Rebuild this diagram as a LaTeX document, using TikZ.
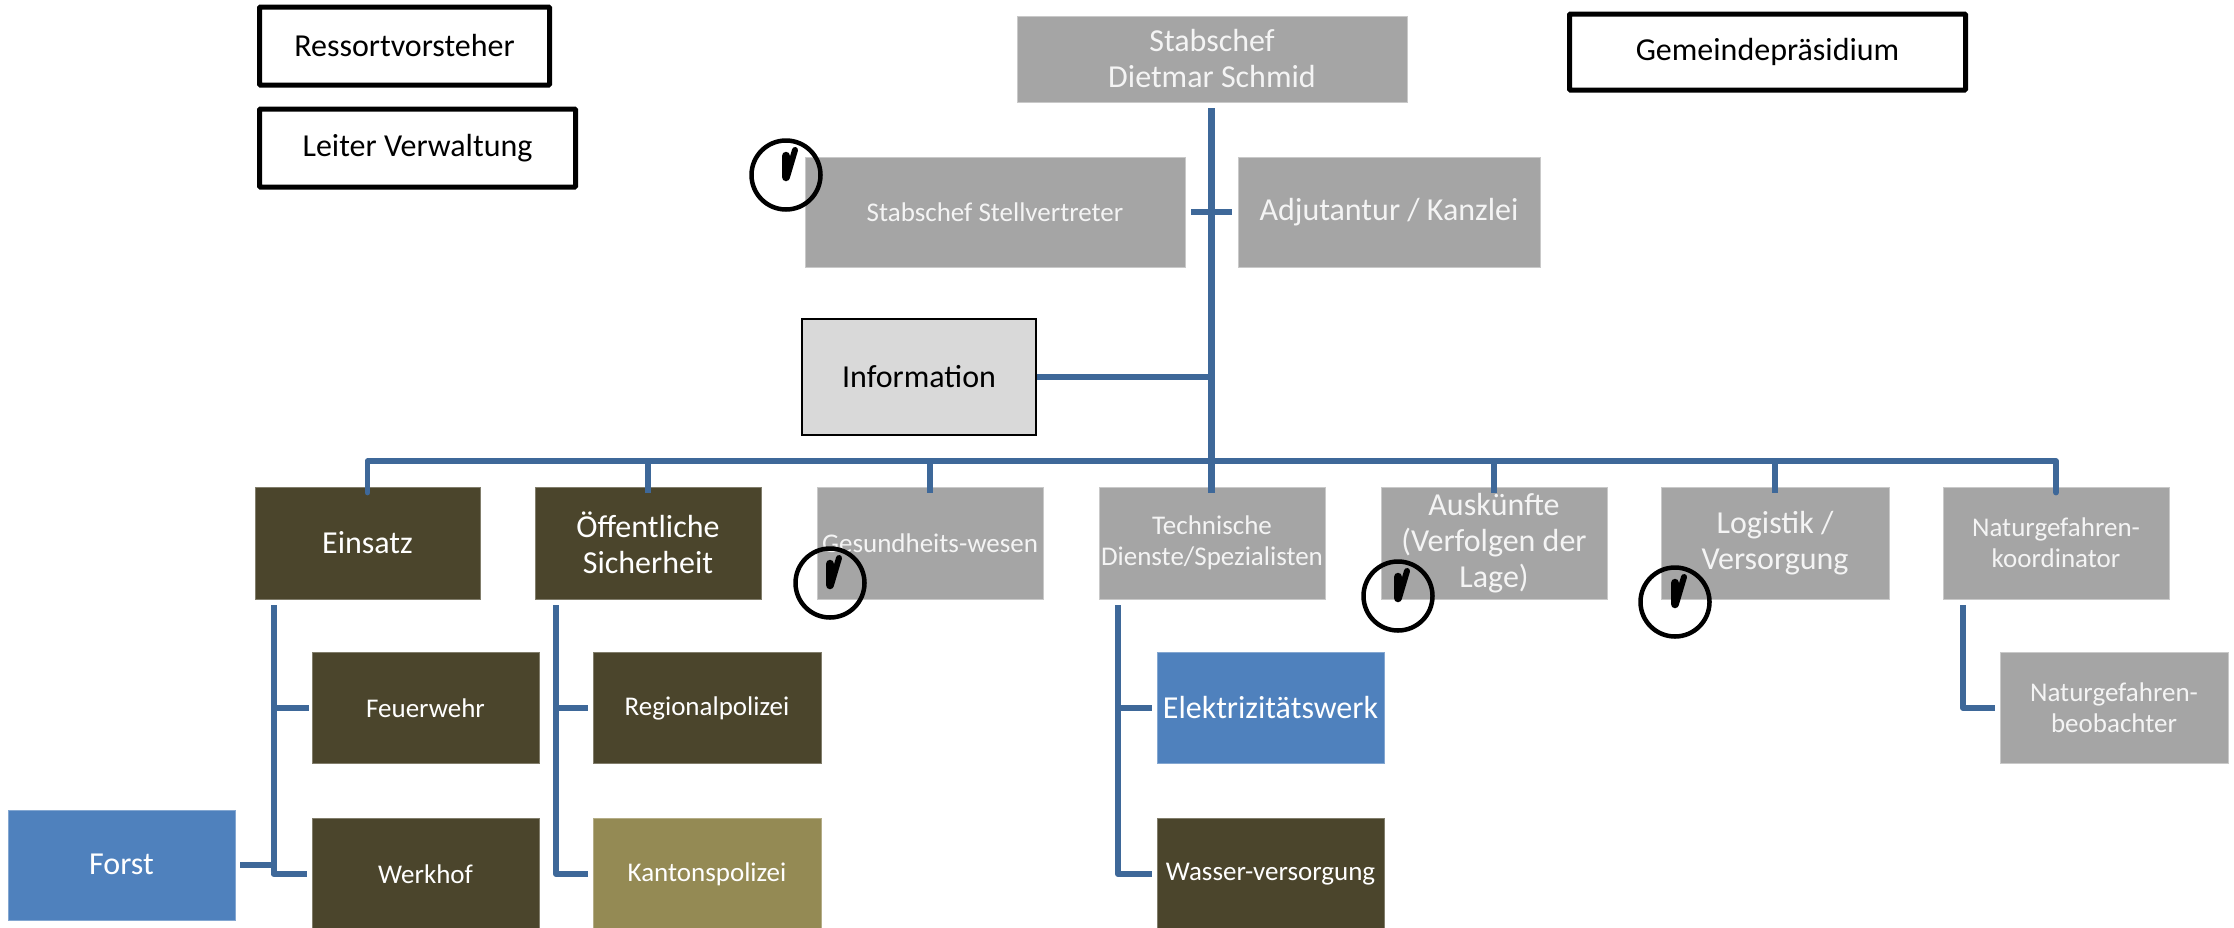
\documentclass[tikz,border=0pt]{standalone}
\usepackage{fontspec}
\setmainfont{Carlito}
\newcommand{\fsS}{\fontsize{27}{31}\selectfont}
\newcommand{\fsL}{\fontsize{32}{36}\selectfont}
\definecolor{greyb}{HTML}{A5A5A5}
\definecolor{brownb}{HTML}{4B452C}
\definecolor{blueb}{HTML}{4F81BD}
\definecolor{oliveb}{HTML}{948A54}
\definecolor{lightb}{HTML}{D9D9D9}
\definecolor{linec}{HTML}{3E6899}
\definecolor{textw}{HTML}{F4F4F4}
\tikzset{
  sized/.style 2 args={minimum width=#1pt,minimum height=#2pt,inner sep=0pt,align=center},
  small/.style={font=\fsS},
  large/.style={font=\fsL},
  greybox/.style={fill=greyb,draw=greyb!60!white,line width=0.8pt,text=textw},
  brownbox/.style={fill=brownb,draw=brownb!70!white,line width=0.8pt,text=white},
  bluebox/.style={fill=blueb,draw=blueb!70!white,line width=0.8pt,text=white},
  olivebox/.style={fill=oliveb,draw=oliveb!70!white,line width=0.8pt,text=white},
  legend/.style={draw=black,line width=5pt,text=black,rounded corners=1pt,font=\fsL},
  conn/.style={draw=linec,line width=5.5pt,line join=round},
  trunk/.style={draw=linec,line width=6.5pt},
  clock/.pic={
    \draw[black,line width=4.5pt] (0,0) circle (34.5);
    \draw[black,line width=8.5pt,line cap=round] (0,2) -- (0,-19);
    \draw[black,line width=6pt,line cap=round] (1,2) -- (9,-25);
  }
}
\begin{document}
\begin{tikzpicture}[x=1pt,y=-1pt]
\useasboundingbox (0,0) rectangle (2234,927);
\clip (0,0) rectangle (2234,927);
% legend and top row
\node[legend,sized={290}{78}] (ressort) at (404.5,46) {Ressortvorsteher};
\node[legend,sized={316}{78}] (leiter) at (417.5,148) {Leiter Verwaltung};
\node[legend,sized={396}{76}] (praes) at (1767.5,52) {Gemeindepräsidium};
\node[greybox,large,sized={390}{86}] (chef) at (1212,59) {Stabschef\\Dietmar Schmid};
\node[greybox,small,sized={380}{110}] (stell) at (995,212) {Stabschef Stellvertreter};
\node[greybox,large,sized={302}{110}] (adj) at (1389,212) {Adjutantur / Kanzlei};
\node[draw=black,line width=1.2pt,fill=lightb,text=black,large,sized={234}{116}] (info) at (919,377) {\raisebox{1.5pt}{Information}};
% first row
\node[brownbox,large,sized={225}{112}] (einsatz) at (367.5,543) {\raisebox{1.5pt}{Einsatz}};
\node[brownbox,large,sized={226}{112}] (oeff) at (648,543) {Öffentliche\\Sicherheit};
\node[greybox,small,sized={226}{112}] (gesund) at (930,543) {Gesundheits-wesen};
\node[greybox,small,sized={226}{112}] (tech) at (1212,543) {Technische\\Dienste/Spezialisten};
\node[greybox,large,sized={226}{112}] (ausk) at (1494,543) {Auskünfte\\(Verfolgen der\\Lage)};
\node[greybox,large,sized={228}{112}] (logi) at (1775,543) {Logistik /\\Versorgung};
\node[greybox,small,sized={226}{112}] (natk) at (2056,543) {Naturgefahren-\\koordinator};
% second row
\node[brownbox,small,sized={227}{111}] (feuer) at (425.5,708) {Feuerwehr};
\node[brownbox,small,sized={228}{111}] (regio) at (707,708) {Regionalpolizei};
\node[bluebox,large,sized={227}{111}] (elek) at (1270.5,708) {\raisebox{1.5pt}{Elektrizitätswerk}};
\node[greybox,small,sized={228}{111}] (natb) at (2114,708) {Naturgefahren-\\beobachter};
% third row
\node[bluebox,large,sized={227}{110}] (forst) at (121.5,865) {\raisebox{1.5pt}{Forst}};
\node[brownbox,small,sized={227}{111}] (werk) at (425.5,874) {Werkhof};
\node[olivebox,small,sized={228}{111}] (kanton) at (707,874) {Kantonspolizei};
\node[brownbox,small,sized={227}{111}] (wasser) at (1270.5,874) {Wasser-versorgung};
% clocks
\pic at (786,175) {clock};
\pic at (830,583) {clock};
\pic at (1398,596) {clock};
\pic at (1675,602) {clock};
% connectors
\coordinate (bus) at (1211.5,461);
\coordinate (busL) at (einsatz.north |- bus);
\coordinate (busR) at (natk.north |- bus);
\draw[trunk,shorten <=6pt] (chef.south -| bus) -- ([yshift=-6pt]tech.north -| bus);
\draw[conn,line cap=round] ([yshift=-6pt]einsatz.north) -- (busL) -- (busR) -- ([yshift=-6pt]natk.north);
\foreach \n in {oeff,gesund,ausk,logi}{
  \draw[conn] (\n.north |- bus) -- ([yshift=-6pt]\n.north);
}
\draw[conn] (info.east) -- (info.east -| bus);
\draw[conn,shorten <=6pt,shorten >=6pt] (stell.east) -- (adj.west);
% subtrees
\coordinate (t1) at (273.5,605);
\coordinate (t2) at (556,605);
\coordinate (t3) at (1118,605);
\coordinate (t4) at (1963,605);
\draw[trunk,line width=6pt,shorten >=5pt,line join=round] (t1) |- (werk.west);
\draw[conn,shorten >=3pt] (t1 |- feuer.west) -- (feuer.west);
\draw[trunk,line width=6pt,shorten >=5pt,line join=round] (t2) |- (kanton.west);
\draw[conn,shorten >=5pt] (t2 |- regio.west) -- (regio.west);
\draw[trunk,line width=6pt,shorten >=5pt,line join=round] (t3) |- (wasser.west);
\draw[conn,shorten >=5pt] (t3 |- elek.west) -- (elek.west);
\draw[trunk,line width=6pt,shorten >=5pt,line join=round] (t4) |- (natb.west);
\draw[conn,shorten <=5pt] (forst.east) -- (forst.east -| t1);
\end{tikzpicture}
\end{document}
